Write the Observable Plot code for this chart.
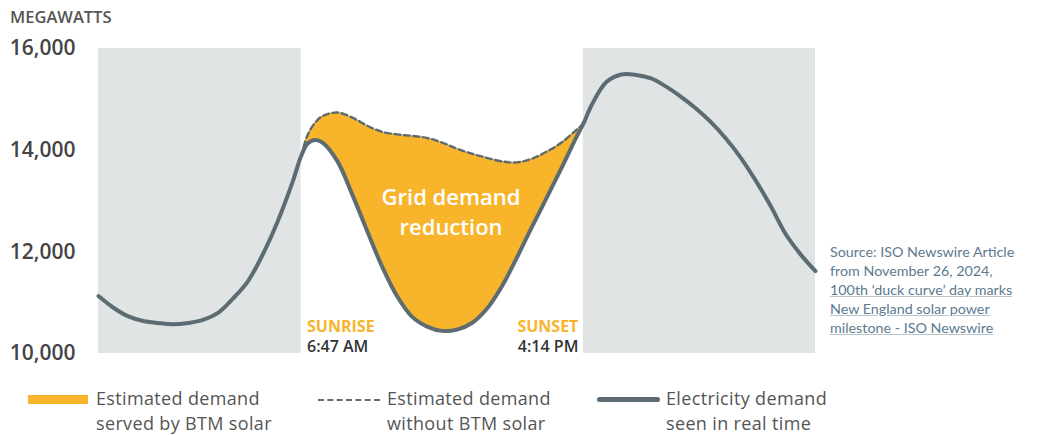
<!DOCTYPE html>
<html>
<head>
<meta charset="utf-8">
<script src="https://cdn.jsdelivr.net/npm/d3@7"></script>
<script src="https://cdn.jsdelivr.net/npm/@observablehq/plot@0.6"></script>
<style>
  body { margin: 0; background: #fff; font-family: "Open Sans", sans-serif; }
  #wrap { position: relative; width: 1039px; height: 435px; overflow: hidden; }
  #ylab { position: absolute; left: 10px; top: 5px; font-size: 16.5px; font-weight: 600; color: #555; }
  #source { position: absolute; left: 830px; top: 242px; font-family: "Lato", sans-serif; font-size: 14.3px; line-height: 19px; color: #5d7a90; white-space: nowrap; }
  #source .u { text-decoration: underline; text-decoration-color: #b9c4cc; }
  .leg { position: absolute; top: 386px; font-size: 18px; line-height: 24.5px; color: #555; white-space: nowrap; letter-spacing: 0.35px; }
  .sw { position: absolute; }
</style>
</head>
<body>
<div id="wrap">
  <div id="chart"></div>
  <div id="ylab">MEGAWATTS</div>
  <div id="source">Source: ISO Newswire Article<br>from November 26, 2024,<br><span class="u">100th ‘duck curve’ day marks</span><br><span class="u">New England solar power</span><br><span class="u">milestone - ISO Newswire</span></div>
  <div id="legend"></div>
</div>
<script>
// Hours of the day (0–24)
const hours = [0,0.5,1,1.5,2,2.5,3,3.5,4,4.5,5,5.5,6,6.5,6.78,7,7.25,7.5,8,8.5,9,9.5,10,10.5,11,11.5,12,12.5,13,13.5,14,14.5,15,15.5,16,16.23,16.5,17,17.5,18,18.5,19,19.5,20,20.5,21,21.5,22,22.5,23,23.5,24];
// Electricity demand seen in real time (MW)
const demand = [11130,10900,10730,10640,10600,10575,10600,10660,10800,11080,11420,11950,12600,13380,13880,14130,14200,14150,13780,13120,12400,11700,11120,10720,10530,10445,10470,10600,10880,11320,11880,12480,13060,13650,14260,14520,14880,15340,15490,15480,15410,15250,15050,14820,14550,14230,13850,13400,12900,12350,11950,11620];
// Estimated demand without BTM solar (MW), daytime only
const solarHours = [6.78,7,7.25,7.5,8,8.5,9,9.5,10,10.5,11,11.5,12,12.5,13,13.5,14,14.5,15,15.5,16,16.23];
const noSolar = [13880,14300,14540,14670,14740,14640,14480,14360,14310,14280,14240,14150,14030,13930,13850,13780,13760,13830,13970,14150,14400,14520];
// Sunrise / sunset
const sunriseHour = 6.78, sunsetHour = 16.23;
const sunrise = [{x: sunriseHour, name: "SUNRISE", time: "6:47 AM"}];
const sunset = [{x: sunsetHour, name: "SUNSET", time: "4:14 PM"}];
const nights = [{x1: 0, x2: sunriseHour}, {x1: sunsetHour, x2: 24}];
const yTicks = [10000, 12000, 14000, 16000];
const centerLabel = [{x: 11.8, y: 12810, text: "Grid demand\nreduction"}];

const demandData = hours.map((h, i) => ({h, mw: demand[i]}));
const dayData = solarHours.map((h, i) => ({h, base: demand[hours.indexOf(h)], top: noSolar[i]}));

const ORANGE = "#f8b52b", SLATE = "#5d6b73";
const W = 1039, H = 375;
const chart = Plot.plot({
  width: W, height: H,
  marginLeft: 98, marginRight: 224, marginTop: 48, marginBottom: 22,
  style: {fontFamily: "'Open Sans', sans-serif", background: "transparent"},
  x: {domain: [0, 24], axis: null},
  y: {domain: [10000, 16000]},
  marks: [
    Plot.rect(nights, {x1: "x1", x2: "x2", y1: 10000, y2: 16000, fill: "#e1e4e5"}),
    Plot.areaY(dayData, {x: "h", y1: "base", y2: "top", fill: ORANGE, curve: "catmull-rom"}),
    Plot.line(dayData, {x: "h", y: "top", stroke: SLATE, strokeWidth: 2.4, strokeDasharray: "6,3.5", curve: "catmull-rom"}),
    Plot.line(demandData, {x: "h", y: "mw", stroke: SLATE, strokeWidth: 4, curve: "catmull-rom"}),
    Plot.axisY({ticks: yTicks, tickFormat: d3.format(","), tickSize: 0, tickPadding: 23, fontSize: 21, fontWeight: 600, fill: "#444", label: null}),
    Plot.text(centerLabel, {x: "x", y: "y", text: "text", fill: "#fff", fontSize: 22, fontWeight: 600, lineHeight: 1.36}),
    Plot.text(sunrise, {x: "x", y: 10000, text: "name", textAnchor: "start", dx: 6, dy: -27, fill: ORANGE, fontSize: 16, fontWeight: 700}),
    Plot.text(sunrise, {x: "x", y: 10000, text: "time", textAnchor: "start", dx: 6, dy: -7, fill: "#333", fontSize: 16, fontWeight: 600}),
    Plot.text(sunset, {x: "x", y: 10000, text: "name", textAnchor: "end", dx: -5, dy: -27, fill: ORANGE, fontSize: 16, fontWeight: 700}),
    Plot.text(sunset, {x: "x", y: 10000, text: "time", textAnchor: "end", dx: -5, dy: -7, fill: "#333", fontSize: 16, fontWeight: 600})
  ]
});
document.getElementById("chart").appendChild(chart);

// Legend
const legendItems = [
  {left: 96, kind: "fill", sw: [28, 60], lines: ["Estimated demand", "served by BTM solar"]},
  {left: 387, kind: "dash", sw: [318, 62], lines: ["Estimated demand", "without BTM solar"]},
  {left: 666, kind: "solid", sw: [597, 63], lines: ["Electricity demand", "seen in real time"]}
];
const leg = document.getElementById("legend");
legendItems.forEach(it => {
  const t = document.createElement("div");
  t.className = "leg";
  t.style.left = it.left + "px";
  t.innerHTML = it.lines.join("<br>");
  leg.appendChild(t);
  const s = document.createElement("div");
  s.className = "sw";
  s.style.left = it.sw[0] + "px";
  s.style.width = it.sw[1] + "px";
  if (it.kind === "fill") { s.style.top = "395px"; s.style.height = "9px"; s.style.background = ORANGE; }
  else if (it.kind === "dash") { s.style.top = "399px"; s.style.height = "0"; s.style.borderTop = "2px dashed " + SLATE; }
  else { s.style.top = "397px"; s.style.height = "5px"; s.style.borderRadius = "3px"; s.style.background = SLATE; }
  leg.appendChild(s);
});
</script>
</body>
</html>
